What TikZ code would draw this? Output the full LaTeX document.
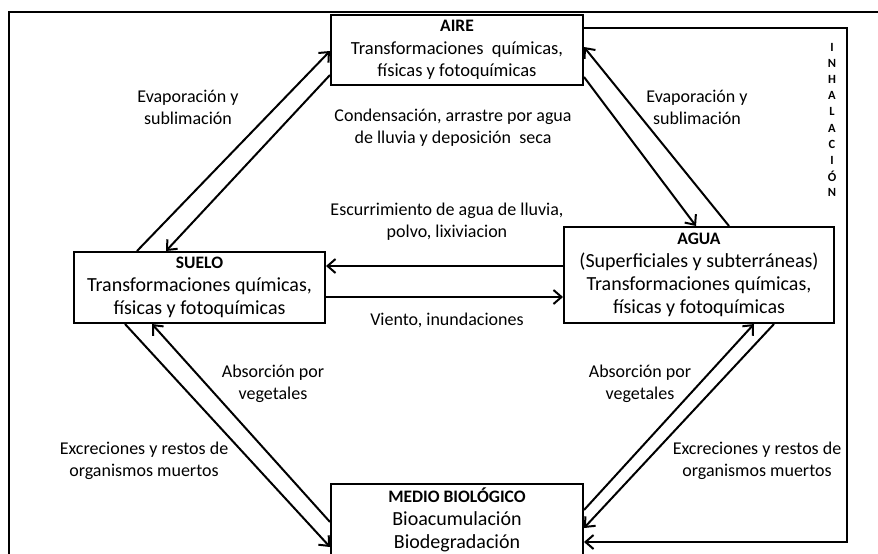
\documentclass[tikz,border=0pt]{standalone}
\usepackage{fontspec}
\setmainfont{Carlito}
\usetikzlibrary{positioning,%
  arrows.meta,%
  calc%
}

\begin{document}
\begin{tikzpicture}[x=1pt, y=-1pt,
    box/.style={draw, line width=2pt, align=center, inner sep=0pt,
      font=\fontsize{20}{23}\selectfont},
    lbl/.style={align=center, font=\fontsize{18}{22}\selectfont},
    flow/.style={line width=2pt, -{Straight Barb[length=8pt, width=14pt, line width=2pt]}}]
			\useasboundingbox (0,0) rectangle (878,554);
			\clip (0,0) rectangle (878,554);
			\draw[line width=2pt] (9,12) rectangle (890,570);
			
			% cajas
			\node[box, minimum width=252pt, minimum height=70pt, font=\fontsize{18.5}{22.5}\selectfont] (aire) at (457,50)
				{{\fontsize{17.5}{20}\selectfont\bfseries AIRE}\\Transformaciones\ \ químicas,\\físicas y fotoquímicas};
			\node[box, minimum width=251pt, minimum height=71pt] (suelo) at (199.5,287.5)
				{{\fontsize{17.5}{20}\selectfont\bfseries SUELO}\\Transformaciones químicas,\\físicas y fotoquímicas};
			\node[box, minimum width=270pt, minimum height=96pt] (agua) at (699,275)
				{{\fontsize{17.5}{20}\selectfont\bfseries AGUA}\\(Superficiales y subterráneas)\\Transformaciones químicas,\\físicas y fotoquímicas};
			\node[box, minimum width=252pt, minimum height=72pt] (medio) at (457,520)
				{{\fontsize{17.5}{20}\selectfont\bfseries MEDIO BIOLÓGICO}\\Bioacumulación\\Biodegradación};
			
			% textos
			\node[lbl] (evapL) at (188,107) {Evaporación y\\sublimación};
			\node[lbl] (evapR) at (697,107) {Evaporación y\\sublimación};
			\node[lbl] (cond) at (453,128) {Condensación, arrastre por agua\\de lluvia y deposición\ \ seca};
			\node[lbl] (escurr) at (447,222) {Escurrimiento de agua de lluvia,\\polvo, lixiviacion};
			\node[lbl] (viento) at (447,320) {Viento, inundaciones};
			\node[lbl] (absL) at (273,384) {Absorción por\\vegetales};
			\node[lbl] (excL) at (144,461) {Excreciones y restos de\\organismos muertos};
			\node[lbl] (absR) at (640,384) {Absorción por\\vegetales};
			\node[lbl] (excR) at (757,461) {Excreciones y restos de\\organismos muertos};
			\foreach \letra [count=\i from 0] in {I,N,H,A,L,A,C,I,Ó,N}
				\node[inner sep=0pt, font=\fontsize{12.5}{15}\selectfont\bfseries] (inh\i) at (832,{47+16.2*\i}) {\letra};
			
			% flechas
			\draw[flow] ([xshift=64pt]suelo.north west) -- ([yshift=-1pt]aire.west);
			\draw[flow] ([yshift=-25pt]aire.west) -- ([xshift=93pt]suelo.north west);
			\draw[flow] ([yshift=-27pt]aire.east) -- ([xshift=133pt]agua.north west);
			\draw[flow] ([xshift=166pt]agua.north west) -- ([yshift=3pt]aire.east);
			\draw[flow] ([yshift=9pt]agua.west) -- ([yshift=9pt]agua.west -| suelo.east);
			\draw[flow] ([yshift=-9.5pt]suelo.east) -- ([yshift=-9.5pt]suelo.east -| agua.west);
			\draw[flow] ([xshift=52pt]suelo.south west) -- ([yshift=-27pt]medio.west);
			\draw[flow] ([yshift=-2pt]medio.west) -- ([xshift=79pt]suelo.south west);
			\draw[flow] ([yshift=10pt]medio.east) -- ([xshift=191pt]agua.south west);
			\draw[flow] ([xshift=211pt]agua.south west) -- ([yshift=-8pt]medio.east);
			
			\coordinate (inhtop) at (847,28);
			\coordinate (inhbot) at (847,542);
			\draw[flow] ([yshift=22pt]aire.east) -- (inhtop) -- (inhbot) -- ([yshift=-22pt]medio.east);
		
		\end{tikzpicture}
\end{document}
